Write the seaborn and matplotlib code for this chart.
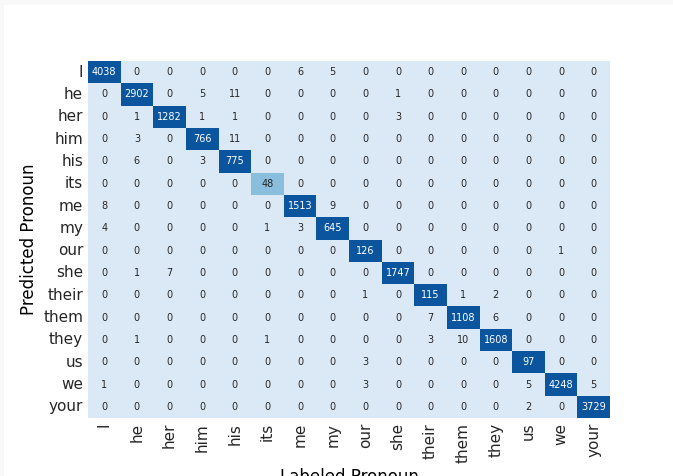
import numpy as np
import pandas as pd
import matplotlib
matplotlib.use("Agg")
import matplotlib.pyplot as plt
import seaborn as sns

labels = ["I", "he", "her", "him", "his", "its", "me", "my", "our", "she",
          "their", "them", "they", "us", "we", "your"]

row_I     = [4038, 0, 0, 0, 0, 0, 6, 5, 0, 0, 0, 0, 0, 0, 0, 0]
row_he    = [0, 2902, 0, 5, 11, 0, 0, 0, 0, 1, 0, 0, 0, 0, 0, 0]
row_her   = [0, 1, 1282, 1, 1, 0, 0, 0, 0, 3, 0, 0, 0, 0, 0, 0]
row_him   = [0, 3, 0, 766, 11, 0, 0, 0, 0, 0, 0, 0, 0, 0, 0, 0]
row_his   = [0, 6, 0, 3, 775, 0, 0, 0, 0, 0, 0, 0, 0, 0, 0, 0]
row_its   = [0, 0, 0, 0, 0, 48, 0, 0, 0, 0, 0, 0, 0, 0, 0, 0]
row_me    = [8, 0, 0, 0, 0, 0, 1513, 9, 0, 0, 0, 0, 0, 0, 0, 0]
row_my    = [4, 0, 0, 0, 0, 1, 3, 645, 0, 0, 0, 0, 0, 0, 0, 0]
row_our   = [0, 0, 0, 0, 0, 0, 0, 0, 126, 0, 0, 0, 0, 0, 1, 0]
row_she   = [0, 1, 7, 0, 0, 0, 0, 0, 0, 1747, 0, 0, 0, 0, 0, 0]
row_their = [0, 0, 0, 0, 0, 0, 0, 0, 1, 0, 115, 1, 2, 0, 0, 0]
row_them  = [0, 0, 0, 0, 0, 0, 0, 0, 0, 0, 7, 1108, 6, 0, 0, 0]
row_they  = [0, 1, 0, 0, 0, 1, 0, 0, 0, 0, 3, 10, 1608, 0, 0, 0]
row_us    = [0, 0, 0, 0, 0, 0, 0, 0, 3, 0, 0, 0, 0, 97, 0, 0]
row_we    = [1, 0, 0, 0, 0, 0, 0, 0, 3, 0, 0, 0, 0, 5, 4248, 5]
row_your  = [0, 0, 0, 0, 0, 0, 0, 0, 0, 0, 0, 0, 0, 2, 0, 3729]

rows = [row_I, row_he, row_her, row_him, row_his, row_its, row_me, row_my,
        row_our, row_she, row_their, row_them, row_they, row_us, row_we, row_your]
df = pd.DataFrame(rows, index=labels, columns=labels)

fig = plt.figure(figsize=(6.73, 4.76), dpi=100)
fig.patch.set_facecolor("#f8f8f8")
# white page area (screenshot-like border on top/left)
fig.patches.append(matplotlib.patches.Rectangle((4/673, 0), 1, 1 - 5/476,
                   transform=fig.transFigure, facecolor="white",
                   edgecolor="none", zorder=-1))

ax = fig.add_axes([88/673, 1 - 418/476, (610 - 88)/673, (418 - 61)/476])
sns.heatmap(df, ax=ax, cmap=sns.color_palette("Blues"), vmin=0, vmax=100,
            annot=True, fmt="d", cbar=False, annot_kws={"fontsize": 7})
ax.set_xlabel("Labeled Pronoun", fontsize=12)
ax.set_ylabel("Predicted Pronoun", fontsize=12)
ax.tick_params(axis="x", labelrotation=90, labelsize=11, length=0)
ax.tick_params(axis="y", labelrotation=0, labelsize=11, length=0)
for t in ax.get_xticklabels() + ax.get_yticklabels():
    t.set_color("#262626")

fig.savefig("out.png", dpi=100, facecolor=fig.get_facecolor())
